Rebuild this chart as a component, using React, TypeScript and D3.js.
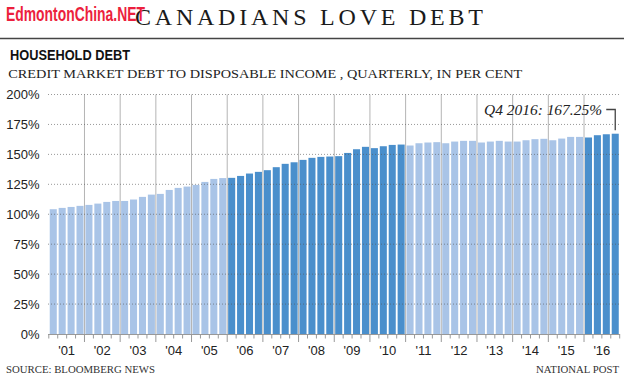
import { useRef, useEffect } from 'react';
import * as d3 from 'd3';

// Credit market debt to disposable income, quarterly, per cent (2001 Q1 - 2016 Q4)
const years = ['01', '02', '03', '04', '05', '06', '07', '08', '09', '10', '11', '12', '13', '14', '15', '16'];
const debtRatio = [
  104.2, 105.3, 106.1, 107.0,
  107.8, 108.9, 110.3, 111.1,
  111.1, 112.3, 114.5, 116.4,
  117.0, 120.3, 122.0, 123.1,
  124.5, 127.0, 129.5, 130.2,
  130.4, 132.0, 134.0, 135.4,
  136.8, 139.3, 142.1, 143.4,
  145.4, 147.1, 147.9, 148.2,
  148.5, 151.2, 154.3, 156.3,
  155.2, 156.8, 157.9, 158.2,
  157.4, 159.3, 159.9, 160.2,
  159.3, 160.7, 161.3, 161.3,
  159.9, 160.7, 161.3, 160.7,
  160.7, 161.8, 162.7, 163.0,
  161.8, 163.2, 164.6, 164.6,
  164.1, 166.0, 166.8, 167.25,
];
const darkYears = ['06', '07', '08', '09', '10', '16'];
const yTicks = [0, 25, 50, 75, 100, 125, 150, 175, 200];

const WIDTH = 624;
const HEIGHT = 384;
const SANS = "'Liberation Sans', Arial, sans-serif";
const SERIF = "'Liberation Serif', 'Times New Roman', serif";

export default function App() {
  const svgRef = useRef<SVGSVGElement>(null);

  useEffect(() => {
    const svg = d3.select(svgRef.current);
    svg.selectAll('*').remove();

    const quarters = years.flatMap((yr) => [1, 2, 3, 4].map((q) => `${yr}Q${q}`));

    const x = d3.scaleBand<string>()
      .domain(quarters)
      .range([48.8, 619.7])
      .paddingInner(0.21)
      .paddingOuter(0.105);
    const y = d3.scaleLinear().domain([0, 200]).range([334, 94.5]);

    const step = x.step();
    const x0 = x.range()[0];
    const boundaries = d3.range(quarters.length + 1).map((k) => x0 + k * step);
    const plotLeft = 48;
    const plotRight = 620;

    // Header
    svg.append('text')
      .attr('x', 135)
      .attr('y', 25)
      .attr('font-family', SERIF)
      .attr('font-size', 24)
      .attr('fill', '#1a1a1a')
      .attr('textLength', 348)
      .attr('lengthAdjust', 'spacing')
      .text('CANADIANS LOVE DEBT');

    svg.append('text')
      .attr('x', 6)
      .attr('y', 21)
      .attr('font-family', SANS)
      .attr('font-weight', 700)
      .attr('font-size', 19.5)
      .attr('fill', '#ec1f3d')
      .attr('textLength', 139)
      .attr('lengthAdjust', 'spacingAndGlyphs')
      .text('EdmontonChina.NET');

    svg.append('line')
      .attr('x1', 0)
      .attr('x2', WIDTH)
      .attr('y1', 38.5)
      .attr('y2', 38.5)
      .attr('stroke', '#444')
      .attr('stroke-width', 1.5);

    svg.append('text')
      .attr('x', 10)
      .attr('y', 60)
      .attr('font-family', SANS)
      .attr('font-weight', 700)
      .attr('font-size', 15.5)
      .attr('fill', '#111')
      .attr('textLength', 120)
      .attr('lengthAdjust', 'spacingAndGlyphs')
      .text('HOUSEHOLD DEBT');

    svg.append('text')
      .attr('x', 8.3)
      .attr('y', 78.3)
      .attr('font-family', SERIF)
      .attr('font-size', 12.8)
      .attr('fill', '#222')
      .attr('textLength', 514)
      .attr('lengthAdjust', 'spacingAndGlyphs')
      .text('CREDIT MARKET DEBT TO DISPOSABLE INCOME , QUARTERLY, IN PER CENT');

    // Year separators
    svg.append('g')
      .selectAll('line')
      .data(boundaries.filter((_, k) => k % 4 === 0 && k > 0 && k < quarters.length))
      .join('line')
      .attr('x1', (d) => d)
      .attr('x2', (d) => d)
      .attr('y1', y(200))
      .attr('y2', y(0))
      .attr('stroke', '#b4b4b4')
      .attr('stroke-width', 1);

    // Bars
    svg.append('g')
      .selectAll('rect')
      .data(debtRatio)
      .join('rect')
      .attr('x', (_, i) => x(quarters[i]) as number)
      .attr('y', (d) => y(d))
      .attr('width', x.bandwidth())
      .attr('height', (d) => y(0) - y(d))
      .attr('fill', (_, i) => (darkYears.includes(years[Math.floor(i / 4)]) ? '#4a8fcc' : '#a9c4e7'));

    // Dotted gridlines over the bars
    svg.append('g')
      .selectAll('line')
      .data(yTicks.filter((t) => t > 0))
      .join('line')
      .attr('x1', plotLeft)
      .attr('x2', plotRight)
      .attr('y1', (d) => y(d))
      .attr('y2', (d) => y(d))
      .attr('stroke', '#555')
      .attr('stroke-opacity', 0.6)
      .attr('stroke-dasharray', '1 2');

    // Y labels
    svg.append('g')
      .selectAll('text')
      .data(yTicks)
      .join('text')
      .attr('x', 39.5)
      .attr('y', (d) => y(d))
      .attr('dy', '0.36em')
      .attr('text-anchor', 'end')
      .attr('font-family', SANS)
      .attr('font-size', 13)
      .attr('fill', '#222')
      .text((d) => `${d}%`);

    // X axis
    svg.append('line')
      .attr('x1', plotLeft)
      .attr('x2', plotRight)
      .attr('y1', y(0) + 0.5)
      .attr('y2', y(0) + 0.5)
      .attr('stroke', '#999')
      .attr('stroke-width', 1.2);

    svg.append('g')
      .selectAll('line')
      .data(boundaries)
      .join('line')
      .attr('x1', (d) => d)
      .attr('x2', (d) => d)
      .attr('y1', y(0))
      .attr('y2', (_, k) => (k % 4 === 0 && k > 0 && k < quarters.length ? y(0) + 8 : y(0) + 4.5))
      .attr('stroke', '#999')
      .attr('stroke-width', 1);

    svg.append('g')
      .selectAll('text')
      .data(years)
      .join('text')
      .attr('x', (yr) => {
        const first = x(`${yr}Q1`) as number;
        const last = (x(`${yr}Q4`) as number) + x.bandwidth();
        return (first + last) / 2;
      })
      .attr('y', 355)
      .attr('text-anchor', 'middle')
      .attr('font-family', SANS)
      .attr('font-size', 13)
      .attr('fill', '#222')
      .text((yr) => `'${yr}`);

    // Annotation for latest value
    const lastIdx = debtRatio.length - 1;
    const lastX = (x(quarters[lastIdx]) as number) + x.bandwidth() / 2;
    svg.append('path')
      .attr('d', `M${lastX - 9},109.5H${lastX}V${y(debtRatio[lastIdx]) - 3.5}`)
      .attr('fill', 'none')
      .attr('stroke', '#444')
      .attr('stroke-width', 1.3);

    svg.append('text')
      .attr('x', 484)
      .attr('y', 115)
      .attr('font-family', SERIF)
      .attr('font-style', 'italic')
      .attr('font-size', 15)
      .attr('fill', '#222')
      .attr('textLength', 118)
      .attr('lengthAdjust', 'spacingAndGlyphs')
      .text(`Q4 2016: ${debtRatio[lastIdx]}%`);

    // Footer
    svg.append('text')
      .attr('x', 6)
      .attr('y', 373)
      .attr('font-family', SERIF)
      .attr('font-size', 10)
      .attr('fill', '#333')
      .attr('textLength', 149)
      .attr('lengthAdjust', 'spacingAndGlyphs')
      .text('SOURCE: BLOOMBERG NEWS');

    svg.append('text')
      .attr('x', 619)
      .attr('y', 373)
      .attr('text-anchor', 'end')
      .attr('font-family', SERIF)
      .attr('font-size', 10)
      .attr('fill', '#333')
      .attr('textLength', 83)
      .attr('lengthAdjust', 'spacingAndGlyphs')
      .text('NATIONAL POST');
  }, []);

  return (
    <svg
      ref={svgRef}
      width={WIDTH}
      height={HEIGHT}
      viewBox={`0 0 ${WIDTH} ${HEIGHT}`}
      style={{ position: 'absolute', left: 0, top: 0, display: 'block', background: '#fff' }}
    />
  );
}
